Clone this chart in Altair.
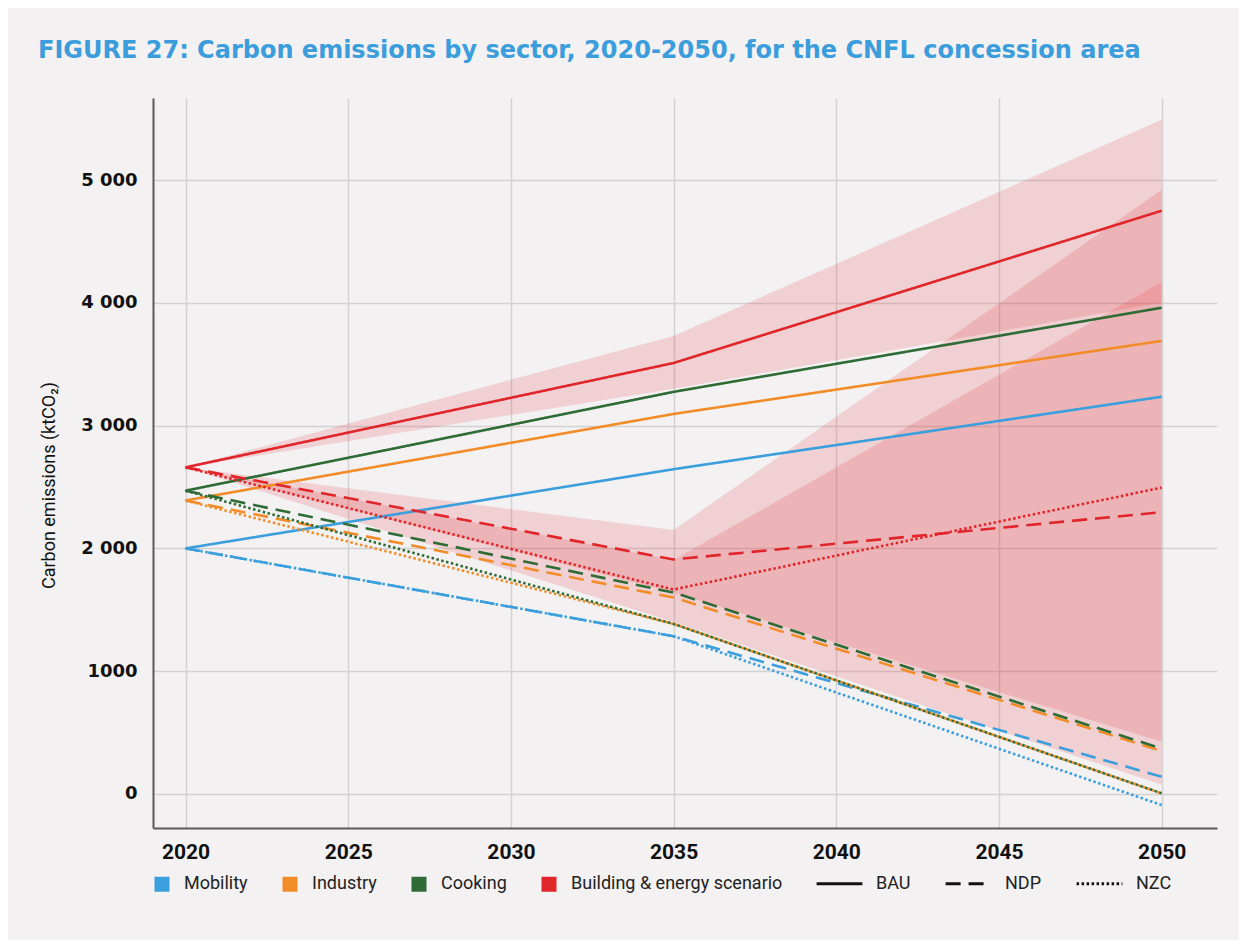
import altair as alt
import pandas as pd

# ---------------- data ----------------
years = [2020, 2035, 2050]
sectors = ["Mobility", "Industry", "Cooking", "Building & energy scenario"]
sector_colors = ["#3a9fdc", "#f28c28", "#2f6b35", "#e0252b"]
scenarios = ["BAU", "NDP", "NZC"]
scenario_dashes = [[1, 0], [15, 8], [2.5, 2.5]]

mobility_bau = [2000, 2645, 3235]
mobility_ndp = [2000, 1285, 140]
mobility_nzc = [2000, 1285, -90]
industry_bau = [2390, 3095, 3690]
industry_ndp = [2390, 1600, 350]
industry_nzc = [2390, 1385, 5]
cooking_bau = [2470, 3275, 3960]
cooking_ndp = [2470, 1640, 370]
cooking_nzc = [2470, 1385, 5]
building_bau = [2660, 3510, 4750]
building_ndp = [2660, 1910, 2295]
building_nzc = [2660, 1665, 2495]

band_bau_low = [2660, 3300, 4000]
band_bau_high = [2660, 3730, 5490]
band_ndp_low = [2660, 1640, 425]
band_ndp_high = [2660, 2150, 4920]
band_nzc_low = [2660, 1400, 75]
band_nzc_high = [2660, 1905, 4170]

x_ticks = [2020, 2025, 2030, 2035, 2040, 2045, 2050]
y_ticks = [0, 1000, 2000, 3000, 4000, 5000]

series = {
    ("Mobility", "BAU"): mobility_bau, ("Mobility", "NDP"): mobility_ndp, ("Mobility", "NZC"): mobility_nzc,
    ("Industry", "BAU"): industry_bau, ("Industry", "NDP"): industry_ndp, ("Industry", "NZC"): industry_nzc,
    ("Cooking", "BAU"): cooking_bau, ("Cooking", "NDP"): cooking_ndp, ("Cooking", "NZC"): cooking_nzc,
    ("Building & energy scenario", "BAU"): building_bau,
    ("Building & energy scenario", "NDP"): building_ndp,
    ("Building & energy scenario", "NZC"): building_nzc,
}
rows = []
for (sec, scen), vals in series.items():
    for y, v in zip(years, vals):
        rows.append({"year": y, "value": v, "sector": sec, "scenario": scen, "key": f"{sec}|{scen}"})
lines_df = pd.DataFrame(rows)

bands = {"BAU": (band_bau_low, band_bau_high), "NDP": (band_ndp_low, band_ndp_high),
         "NZC": (band_nzc_low, band_nzc_high)}
brows = []
for scen, (lo, hi) in bands.items():
    for y, a, b in zip(years, lo, hi):
        brows.append({"year": y, "lo": a, "hi": b, "band": scen})
bands_df = pd.DataFrame(brows)

# ---------------- chart ----------------
xscale = alt.Scale(domain=[2019.0, 2051.7], nice=False, zero=False)
yscale = alt.Scale(domain=[-277, 5668], nice=False, zero=False)
sector_scale = alt.Scale(domain=sectors, range=sector_colors)

x_axis = alt.Axis(values=x_ticks, format="d", title=None, grid=True, ticks=False,
                  labelFont="Roboto", labelFontSize=21, labelFontWeight="bold",
                  labelColor="#111111", labelPadding=13, domainColor="#5a5a5a",
                  domainWidth=2, gridColor="#d3d1d2", gridWidth=1.5, labelFlush=False)
y_axis = alt.Axis(values=y_ticks, title="Carbon emissions (ktCO₂)", grid=True, ticks=False,
                  labelExpr="datum.value >= 2000 ? format(datum.value/1000, 'd') + ' 000' : format(datum.value, 'd')",
                  labelFont="DejaVu Sans", labelFontSize=18, labelFontWeight="bold",
                  labelColor="#111111", labelPadding=16, domainColor="#5a5a5a", domainWidth=2,
                  gridColor="#d3d1d2", gridWidth=1.5, titleFont="Roboto", titleFontSize=18,
                  titleFontWeight="normal", titleColor="#111111", titlePadding=22, titleY=387)

band_layer = alt.Chart(bands_df).mark_area(color="#e0262c", opacity=0.16).encode(
    x=alt.X("year:Q", scale=xscale, axis=x_axis),
    y=alt.Y("lo:Q", scale=yscale, axis=y_axis),
    y2="hi:Q",
    detail="band:N",
)

line_layer = alt.Chart(lines_df).mark_line(strokeWidth=2.6).encode(
    x=alt.X("year:Q", scale=xscale),
    y=alt.Y("value:Q", scale=yscale),
    color=alt.Color("sector:N", scale=sector_scale,
                    legend=alt.Legend(orient="none", legendX=0, legendY=777, direction="horizontal",
                                      title=None, symbolType="square", symbolSize=49,
                                      symbolStrokeWidth=8, labelFont="Roboto",
                                      labelFontSize=18, labelColor="#222222", labelOffset=13,
                                      columnPadding=22, labelLimit=400)),
    strokeDash=alt.StrokeDash("scenario:N", scale=alt.Scale(domain=scenarios, range=scenario_dashes),
                              legend=alt.Legend(orient="none", legendX=662, legendY=761,
                                                direction="horizontal", title=None,
                                                symbolType="stroke", symbolSize=2100,
                                                symbolStrokeColor="#111111", symbolStrokeWidth=3,
                                                labelFont="Roboto", labelFontSize=18,
                                                labelColor="#222222", labelOffset=12,
                                                columnPadding=28)),
    detail="key:N",
)

chart = alt.layer(band_layer, line_layer).properties(
    width=1064,
    height=730,
    autosize=alt.AutoSizeParams(type="none"),
    padding={"left": 145, "top": 90, "right": 22, "bottom": 112},
    background="#f3f1f2",
    title=alt.TitleParams(
        "FIGURE 27: Carbon emissions by sector, 2020-2050, for the CNFL concession area",
        anchor="start", frame="group", dx=-115, offset=16, baseline="alphabetic",
        font="DejaVu Sans", fontSize=24, fontWeight="bold", color="#3b9ddb"),
).configure_view(stroke=None)

chart.save("out.html", embed_options={"renderer": "svg", "actions": False})
